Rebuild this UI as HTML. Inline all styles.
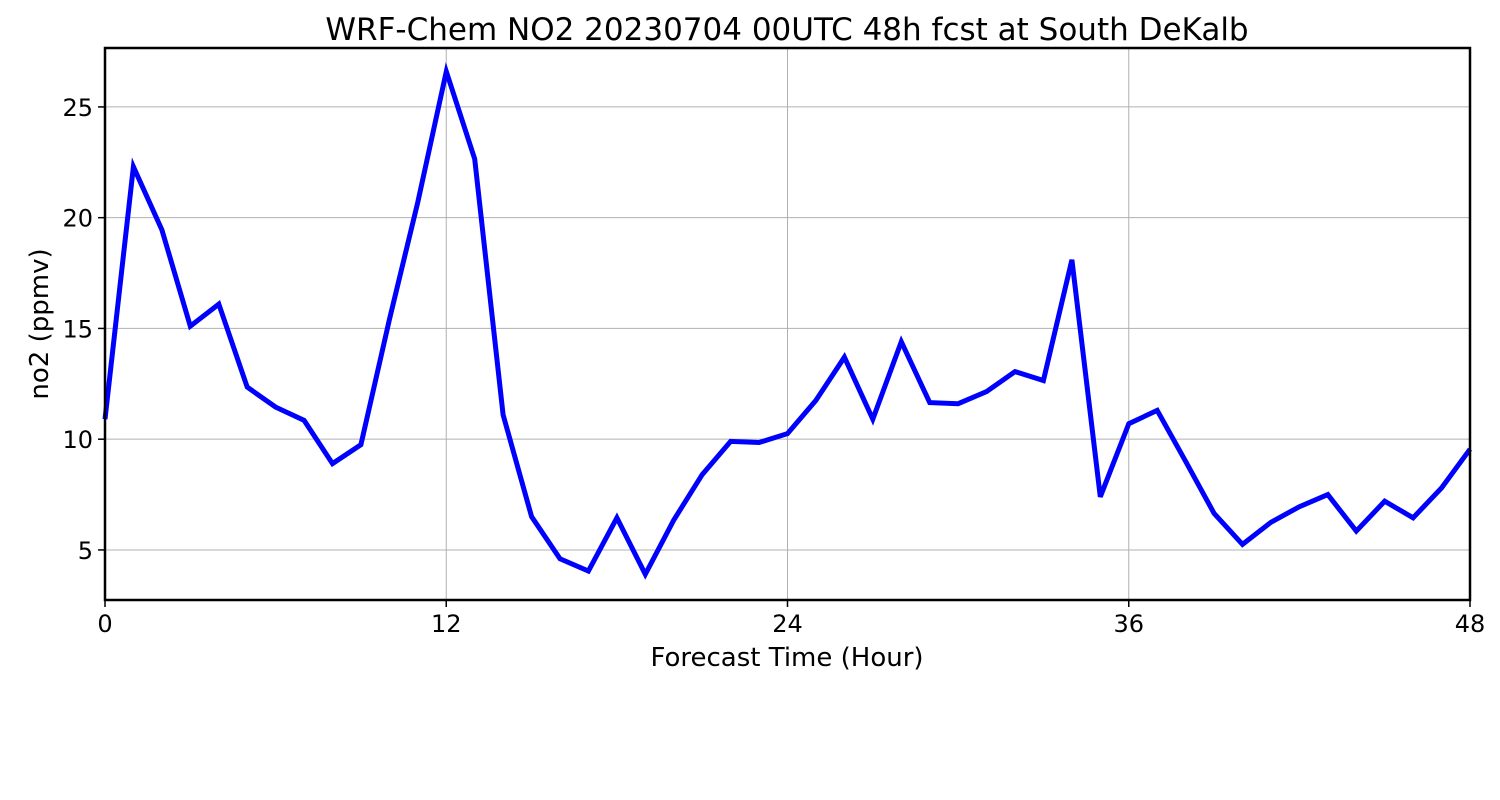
<!DOCTYPE html>
<html><head><meta charset="utf-8"><style>
body{margin:0;background:#fff;}
svg{display:block;font-family:"DejaVu Sans","Liberation Sans",sans-serif;}
</style></head><body>
<svg id="chart" width="1500" height="800"></svg>
<script>
const hours = [0,1,2,3,4,5,6,7,8,9,10,11,12,13,14,15,16,17,18,19,20,21,22,23,24,25,26,27,28,29,30,31,32,33,34,35,36,37,38,39,40,41,42,43,44,45,46,47,48];
const no2Values = [10.9,22.3,19.45,15.1,16.1,12.35,11.45,10.85,8.9,9.75,15.4,20.7,26.6,22.65,11.1,6.5,4.6,4.05,6.45,3.9,6.35,8.4,9.9,9.85,10.25,11.75,13.7,10.9,14.4,11.65,11.6,12.15,13.05,12.65,18.1,7.4,10.7,11.3,9.0,6.65,5.25,6.25,6.95,7.5,5.85,7.2,6.45,7.8,9.55];
const xTicks = [0,12,24,36,48];
const yTicks = [5,10,15,20,25];
const xDomain = [0,48];
const yDomain = [2.74,27.66];

const L=105,R=1470,T=48,B=600;
const xs=v=>L+(v-xDomain[0])/(xDomain[1]-xDomain[0])*(R-L);
const ys=v=>B-(v-yDomain[0])/(yDomain[1]-yDomain[0])*(B-T);
const NS="http://www.w3.org/2000/svg";
const svg=document.getElementById('chart');
function mk(tag,attrs,parent){const e=document.createElementNS(NS,tag);for(const k in attrs)e.setAttribute(k,attrs[k]);(parent||svg).appendChild(e);return e;}

const title=mk('text',{x:787,y:40,'text-anchor':'middle','font-size':31,fill:'#000'});


title.textContent='WRF-Chem NO2  20230704 00UTC 48h fcst at South DeKalb';

xTicks.forEach(t=>{
  const x=xs(t);
  const g=mk('line',{x1:x,x2:x,y1:T,y2:B,stroke:'#b0b0b0','stroke-width':1});
  
  
  mk('line',{x1:x,x2:x,y1:B,y2:B+7,stroke:'#000','stroke-width':1.5});
  const lb=mk('text',{x:x,y:632,'text-anchor':'middle','font-size':24});
  
  
  lb.textContent=t;
});
yTicks.forEach(t=>{
  const y=ys(t);
  const g=mk('line',{x1:L,x2:R,y1:y,y2:y,stroke:'#b0b0b0','stroke-width':1});
  
  
  mk('line',{x1:L-7,x2:L,y1:y,y2:y,stroke:'#000','stroke-width':1.5});
  const lb=mk('text',{x:93,y:y+9,'text-anchor':'end','font-size':24});
  
  
  lb.textContent=t;
});

const pts=hours.map((h,i)=>xs(h).toFixed(1)+','+ys(no2Values[i]).toFixed(1)).join(' ');
const line=mk('polyline',{points:pts,fill:'none',stroke:'#0000ff','stroke-width':5,'stroke-linejoin':'miter'});



const frame=mk('rect',{x:L,y:T,width:R-L,height:B-T,fill:'none',stroke:'#000','stroke-width':2.5});



const xt=mk('text',{x:787,y:666,'text-anchor':'middle','font-size':26});


xt.textContent='Forecast Time (Hour)';

const yt=mk('text',{x:48,y:324,'text-anchor':'middle','font-size':26,transform:'rotate(-90 48 324)'});


yt.textContent='no2  (ppmv)';
</script>
</body></html>
